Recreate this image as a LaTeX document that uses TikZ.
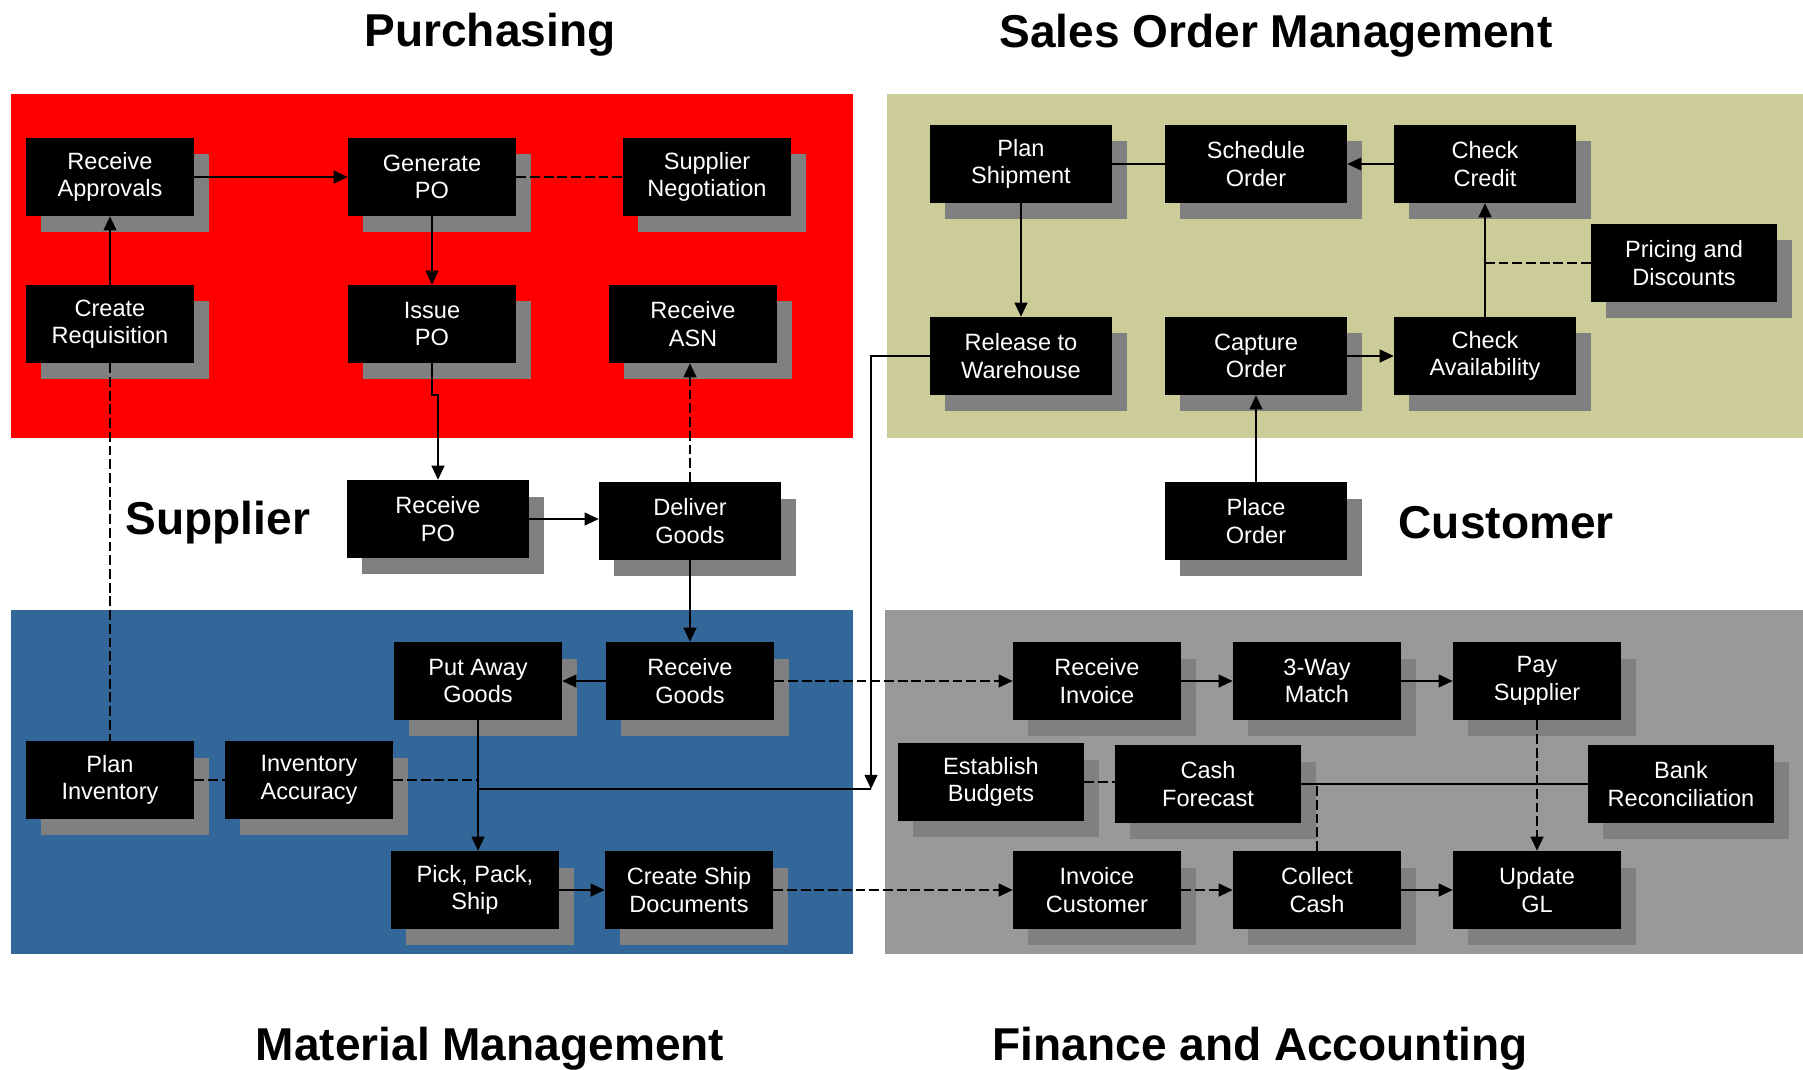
\documentclass[tikz,border=0pt]{standalone}
\usepackage{fontspec}
\setmainfont{Liberation Sans}
\usetikzlibrary{arrows.meta,shadows}
\definecolor{purchred}{RGB}{255,0,0}
\definecolor{salestan}{RGB}{204,204,153}
\definecolor{matblue}{RGB}{51,102,153}
\definecolor{fingray}{RGB}{153,153,153}
\definecolor{boxshade}{RGB}{128,128,128}
\tikzset{
  task/.style={rectangle,fill=black,text=white,align=center,inner sep=0pt,
    minimum width=1.67cm,minimum height=0.77cm,
    font=\fontsize{6.7}{7.8}\selectfont,
    drop shadow={shadow xshift=0.15cm,shadow yshift=-0.16cm,fill=boxshade,opacity=1}},
  wide/.style={minimum width=1.81cm},
  wider/.style={minimum width=1.85cm},
  link/.style={line width=0.6pt},
  flow/.style={link,-{Triangle[length=4pt,width=3.6pt]}},
  loose/.style={link,dash pattern=on 2.8pt off 1.1pt},
  dflow/.style={loose,-{Triangle[length=4pt,width=3.6pt]}},
  area/.style={inner sep=0pt,font=\fontsize{13.1}{15}\selectfont\bfseries}
}
\begin{document}
\begin{tikzpicture}[x=0.01cm,y=-0.01cm]
\useasboundingbox (0,0) rectangle (1803,1069);
\fill[purchred] (11,94) rectangle (853,438);
\fill[salestan] (887,94) rectangle (1803,438);
\fill[matblue] (11,610) rectangle (853,954);
\fill[fingray] (885,610) rectangle (1803,954);

\node[area,anchor=base] (purchtitle) at (490,46) {Purchasing};
\node[area,anchor=base] (salestitle) at (1276,47) {Sales Order Management};
\node[area,anchor=base] (mattitle) at (490,1060) {Material Management};
\node[area,anchor=base] (fintitle) at (1260,1060) {Finance and Accounting};
\node[area,anchor=base west] (suppl) at (125,534) {Supplier};
\node[area,anchor=base west] (cust) at (1398,538) {Customer};

\node[task] (recapp) at (110,177) {Receive\\Approvals};
\node[task] (genpo) at (432,177) {Generate\\PO};
\node[task] (supneg) at (707,177) {Supplier\\Negotiation};
\node[task] (creq) at (110,324) {Create\\Requisition};
\node[task] (issuepo) at (432,324) {Issue\\PO};
\node[task] (recasn) at (693,324) {Receive\\ASN};
\node[task,wide] (recpo) at (438,519) {Receive\\PO};
\node[task,wide] (delgoods) at (690,521) {Deliver\\Goods};
\node[task] (putaway) at (478,681) {Put Away\\Goods};
\node[task] (recgoods) at (690,681) {Receive\\Goods};
\node[task] (planinv) at (110,780) {Plan\\Inventory};
\node[task] (invacc) at (309,780) {Inventory\\Accuracy};
\node[task] (pps) at (475,890) {Pick, Pack,\\Ship};
\node[task] (csd) at (689,890) {Create Ship\\Documents};

\node[task,wide] (planship) at (1021,164) {Plan\\Shipment};
\node[task,wide] (schedord) at (1256,164) {Schedule\\Order};
\node[task,wide] (chkcred) at (1485,164) {Check\\Credit};
\node[task,wider] (pricing) at (1684,263) {Pricing and\\Discounts};
\node[task,wide] (relwh) at (1021,356) {Release to\\Warehouse};
\node[task,wide] (capord) at (1256,356) {Capture\\Order};
\node[task,wide] (chkavail) at (1485,356) {Check\\Availability};
\node[task,wide] (placeord) at (1256,521) {Place\\Order};

\node[task] (recinv) at (1097,681) {Receive\\Invoice};
\node[task] (threeway) at (1317,681) {3-Way\\Match};
\node[task] (paysup) at (1537,681) {Pay\\Supplier};
\node[task,wider] (estbud) at (991,782) {Establish\\Budgets};
\node[task,wider] (cashfc) at (1208,784) {Cash\\Forecast};
\node[task,wider] (bankrec) at (1681,784) {Bank\\Reconciliation};
\node[task] (invcust) at (1097,890) {Invoice\\Customer};
\node[task] (colcash) at (1317,890) {Collect\\Cash};
\node[task] (updgl) at (1537,890) {Update\\GL};

\draw[flow] (creq) -- (recapp);
\draw[flow] (recapp) -- (genpo);
\draw[loose] (genpo) -- (supneg);
\draw[flow] (genpo) -- (issuepo);
\draw[flow] (issuepo.south) -- ++(0,32) -| (recpo);
\draw[flow] (recpo) -- (recpo -| delgoods.west);
\draw[dflow] (delgoods.north) -- (delgoods.north |- recasn.south);
\draw[flow] (delgoods) -- (recgoods);
\draw[flow] (recgoods) -- (putaway);
\draw[dflow] (recgoods) -- (recinv);
\draw[loose] (creq) -- (planinv);
\draw[loose] (planinv) -- (invacc);
\draw[loose] (invacc.east) -- (invacc.east -| putaway.south);
\draw[flow] (putaway.south) -- (putaway.south |- pps.north);
\coordinate (whdrop) at (871,789);
\draw[flow] (relwh.west) -| (whdrop);
\draw[link] (whdrop) -- (whdrop -| putaway.south);
\draw[flow] (pps) -- (csd);
\draw[dflow] (csd) -- (invcust);

\draw[link] (planship) -- (schedord);
\draw[flow] (chkcred) -- (schedord);
\draw[flow] (planship) -- (relwh);
\draw[flow] (chkavail) -- (chkcred);
\draw[loose] (pricing.west) -- (pricing.west -| chkcred.south);
\draw[flow] (capord) -- (chkavail);
\draw[flow] (placeord) -- (capord);

\draw[flow] (recinv) -- (threeway);
\draw[flow] (threeway) -- (paysup);
\draw[dflow] (paysup) -- (updgl);
\draw[loose] (estbud.east) -- (estbud.east -| cashfc.west);
\draw[link] (cashfc) -- (bankrec);
\draw[loose] (colcash.north) -- (colcash.north |- cashfc.east);
\draw[dflow] (invcust) -- (colcash);
\draw[flow] (colcash) -- (updgl);
\end{tikzpicture}
\end{document}
